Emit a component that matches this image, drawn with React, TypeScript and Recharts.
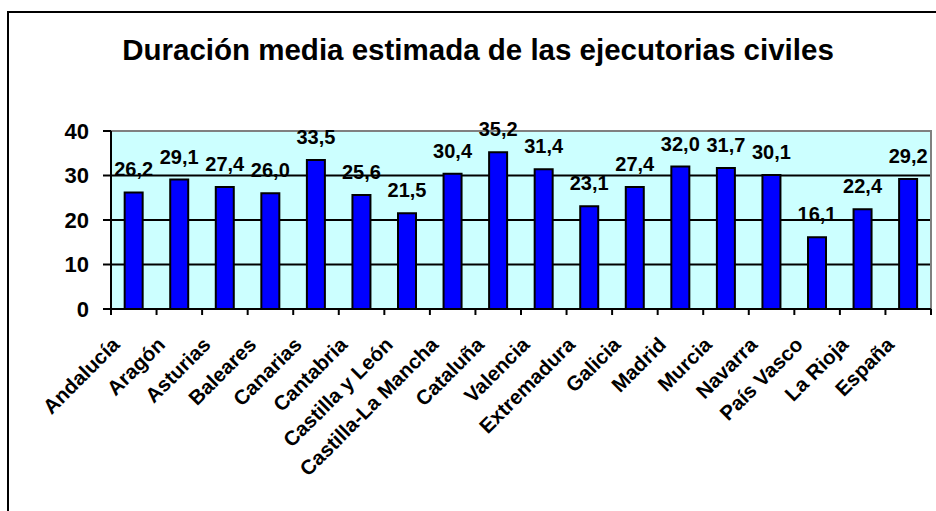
import {
  BarChart,
  Bar,
  XAxis,
  YAxis,
  CartesianGrid,
  LabelList,
  ReferenceArea,
} from "recharts";

// ─── Data ─────────────────────────────────────────────────────────────────────

const TITLE = "Duración media estimada de las ejecutorias civiles";

const REGIONS: string[] = [
  "Andalucía",
  "Aragón",
  "Asturias",
  "Baleares",
  "Canarias",
  "Cantabria",
  "Castilla y León",
  "Castilla-La Mancha",
  "Cataluña",
  "Valencia",
  "Extremadura",
  "Galicia",
  "Madrid",
  "Murcia",
  "Navarra",
  "País Vasco",
  "La Rioja",
  "España",
];

const DURATIONS: number[] = [
  26.2, 29.1, 27.4, 26.0, 33.5, 25.6, 21.5, 30.4, 35.2,
  31.4, 23.1, 27.4, 32.0, 31.7, 30.1, 16.1, 22.4, 29.2,
];

const Y_TICKS: number[] = [0, 10, 20, 30, 40];

const ROWS = REGIONS.map((name, i) => ({ name, value: DURATIONS[i] }));

// ─── Layout ───────────────────────────────────────────────────────────────────

const WIDTH = 936;
const HEIGHT = 511;
const Y_AXIS_W = 111;
const X_AXIS_H = 202;
const MARGIN = { top: 131, right: 5, left: 0, bottom: 0 };
const BAND = (WIDTH - Y_AXIS_W - MARGIN.right) / REGIONS.length;

const FONT = '"Liberation Sans", Arial, Helvetica, sans-serif';

const fmt = (v: unknown) => Number(v).toFixed(1).replace(".", ",");

// category ticks sit on the band edges, labels slanted under the centre
function RegionTick(props: any) {
  const { x, y, payload, index } = props;
  const half = payload?.offset || BAND / 2;
  const tx = x - 13;
  const ty = y + 37;
  return (
    <g>
      <line x1={x - half} x2={x - half} y1={y} y2={y + 6} stroke="#000" strokeWidth={2} />
      {index === REGIONS.length - 1 && (
        <line x1={x + half} x2={x + half} y1={y} y2={y + 6} stroke="#000" strokeWidth={2} />
      )}
      <text
        x={tx}
        y={ty}
        transform={`rotate(-45, ${tx}, ${ty})`}
        textAnchor="end"
        fill="#000"
        fontSize={20.5}
        fontWeight="bold"
        fontFamily={FONT}
      >
        {payload.value}
      </text>
    </g>
  );
}

export default function App() {
  return (
    <div
      style={{
        position: "absolute",
        left: 0,
        top: 0,
        width: WIDTH,
        height: HEIGHT,
        overflow: "hidden",
        background: "#fff",
        fontFamily: FONT,
      }}
    >
      <div
        style={{
          position: "absolute",
          left: 7,
          top: 11,
          width: 1000,
          height: 700,
          border: "2px solid #000",
        }}
      />
      <div
        style={{
          position: "absolute",
          left: 0,
          top: 35,
          width: 956,
          textAlign: "center",
          fontSize: 29.5,
          lineHeight: "29px",
          fontWeight: "bold",
          color: "#000",
        }}
      >
        {TITLE}
      </div>
      <div style={{ position: "absolute", left: 0, top: 0 }}>
        <BarChart
          width={WIDTH}
          height={HEIGHT}
          data={ROWS}
          margin={MARGIN}
          barCategoryGap="30%"
        >
          <CartesianGrid
            vertical={false}
            fill="#CCFFFF"
            fillOpacity={1}
            stroke="#000"
            strokeWidth={2}
          />
          <ReferenceArea
            y1={0}
            y2={40}
            fill="none"
            fillOpacity={0}
            stroke="#808080"
            strokeWidth={2}
            ifOverflow="visible"
          />
          <XAxis
            dataKey="name"
            interval={0}
            height={X_AXIS_H}
            tickLine={false}
            tickSize={0}
            tickMargin={0}
            axisLine={{ stroke: "#000", strokeWidth: 2 }}
            tick={<RegionTick />}
          />
          <YAxis
            width={Y_AXIS_W}
            domain={[0, 40]}
            ticks={Y_TICKS}
            interval={0}
            tickSize={8}
            tickMargin={14}
            axisLine={{ stroke: "#000", strokeWidth: 2 }}
            tickLine={{ stroke: "#000", strokeWidth: 2 }}
            tick={{ fill: "#000", fontSize: 22, fontWeight: "bold", fontFamily: FONT }}
          />
          <Bar
            dataKey="value"
            fill="#0000FF"
            stroke="#000"
            strokeWidth={2}
            isAnimationActive={false}
          >
            <LabelList
              dataKey="value"
              position="top"
              offset={16}
              formatter={fmt}
              fill="#000"
              fontSize={20}
              fontWeight="bold"
              fontFamily={FONT}
            />
          </Bar>
        </BarChart>
      </div>
    </div>
  );
}
